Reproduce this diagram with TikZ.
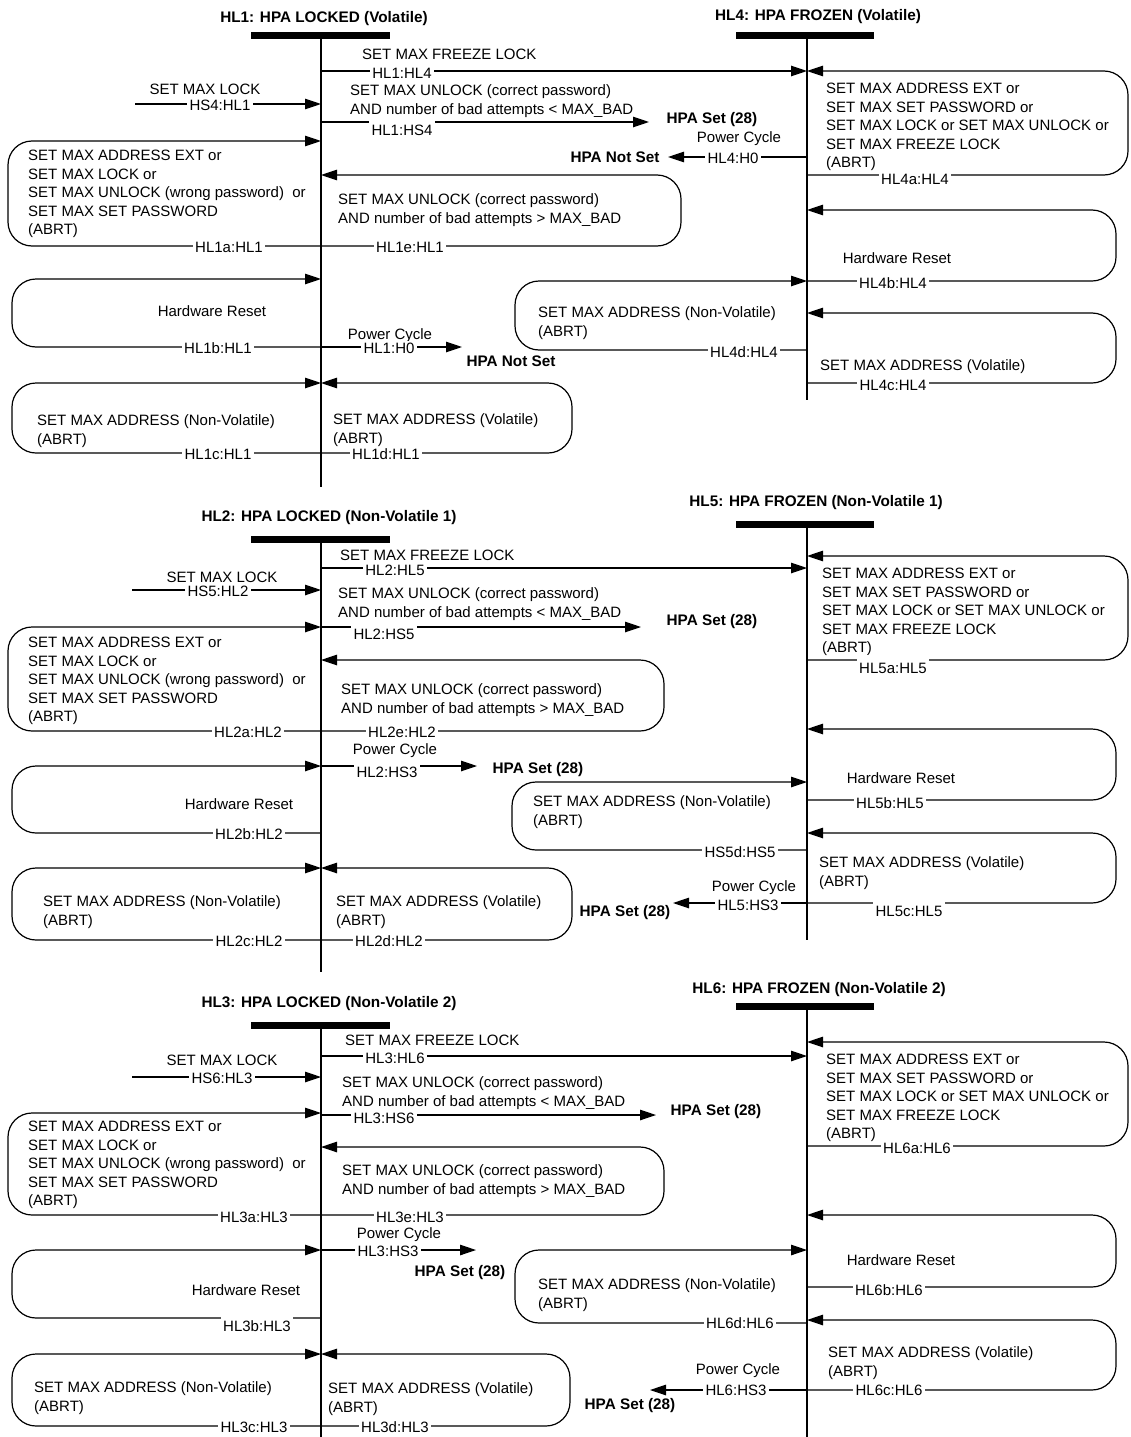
\documentclass[tikz,border=0pt]{standalone}
\usepackage{fontspec}
\setmainfont{Liberation Sans}
\usetikzlibrary{arrows.meta}
\newcommand\fnreg{\fontsize{15}{18.5}\selectfont}
\newcommand\fnbold{\fontsize{15.3}{18}\selectfont\bfseries}
\tikzset{
  conn/.style={line width=1.2pt,-{Triangle[length=16pt,width=10.5pt]}},
  life/.style={line width=2.8pt},
  hbar/.style={line width=7pt},
  lbl/.style={fill=white,inner xsep=2.5pt,inner ysep=1.5pt,text height=10.7pt,text depth=0pt,font=\fnreg},
  lblt/.style={lbl,text height=17pt,yshift=3.15pt},
  txt/.style={inner sep=0pt,text height=10.7pt,text depth=0pt,font=\fnreg},
  txw/.style={txt,anchor=west},
  bld/.style={inner sep=0pt,text height=11pt,text depth=0pt,font=\fnbold},
  blk/.style={anchor=north west,align=left,inner sep=0pt,font=\fnreg}
}
\newcommand\hloop[4]{\draw[conn,rounded corners=24pt] (#1|-0,#3) -- (#4,#3) -- (#4,#2) -- (#1|-0,#2);}
\newcommand\tblock[4]{\node[blk] (#1) at (#2,#3-7.6) {\strut #4};}
\begin{document}
\begin{tikzpicture}[x=1pt,y=-1pt]
\useasboundingbox (0,0) rectangle (1130,1437);
\fill[white] (0,0) rectangle (1130,1437);
\coordinate (L1) at (321,0);
\coordinate (L2) at (321,0);
\coordinate (L3) at (321,0);
\coordinate (L4) at (807,0);
\coordinate (L5) at (807,0);
\coordinate (L6) at (807,0);
% free ends
\coordinate (s4) at (135,104);
\coordinate (e14) at (649,122);
\coordinate (e40) at (668,157);
\coordinate (e10) at (462,347);
\coordinate (s5) at (132,590);
\coordinate (e25) at (641,627);
\coordinate (e23) at (477,766);
\coordinate (e53) at (673,903);
\coordinate (s6) at (132,1077);
\coordinate (e36) at (656,1115);
\coordinate (e33) at (476,1250);
\coordinate (e63) at (650,1390);

% ===== Section 1 connectors =====
\draw[conn] (L1|-0,71) -- (L4|-0,71);
\draw[conn] (s4) -- (L1|-0,104);
\draw[conn] (L1|-0,122) -- (e14);
\draw[conn] (L4|-0,157) -- (e40);
\draw[conn] (L1|-0,347) -- (e10);
\hloop{L1}{141}{246}{8}
\hloop{L1}{175}{246}{681}
\hloop{L1}{279}{347}{12}
\hloop{L1}{383}{453}{12}
\hloop{L1}{383}{453}{572}
\hloop{L4}{71}{175}{1128}
\hloop{L4}{210}{281}{1116}
\hloop{L4}{281}{350}{515}
\hloop{L4}{313}{383}{1116}

% ===== Section 2 connectors =====
\draw[conn] (L2|-0,568) -- (L5|-0,568);
\draw[conn] (s5) -- (L2|-0,590);
\draw[conn] (L2|-0,627) -- (e25);
\draw[conn] (L2|-0,766) -- (e23);
\draw[conn] (L5|-0,903) -- (e53);
\hloop{L2}{627}{731}{8}
\hloop{L2}{660}{731}{664}
\hloop{L2}{766}{833}{12}
\hloop{L2}{868}{940}{12}
\hloop{L2}{868}{940}{572}
\hloop{L5}{556}{660}{1128}
\hloop{L5}{729}{800}{1116}
\hloop{L5}{782}{850}{512}
\hloop{L5}{833}{903}{1116}

% ===== Section 3 connectors =====
\draw[conn] (L3|-0,1056) -- (L6|-0,1056);
\draw[conn] (s6) -- (L3|-0,1077);
\draw[conn] (L3|-0,1115) -- (e36);
\draw[conn] (L3|-0,1250) -- (e33);
\draw[conn] (L6|-0,1390) -- (e63);
\hloop{L3}{1113}{1215}{8}
\hloop{L3}{1147}{1215}{664}
\hloop{L3}{1250}{1318}{12}
\hloop{L3}{1354}{1426}{12}
\hloop{L3}{1354}{1426}{570}
\hloop{L6}{1042}{1146}{1128}
\hloop{L6}{1215}{1287}{1116}
\hloop{L6}{1250}{1323}{515}
\hloop{L6}{1320}{1390}{1116}

% ===== Section 1 texts =====
\node[bld] (T1) at (324,17) {HL1: HPA LOCKED (Volatile)};
\node[bld] (T4) at (818,15) {HL4: HPA FROZEN (Volatile)};
\node[txw] (t1a) at (362,54) {SET MAX FREEZE LOCK};
\node[lbl] (l14) at (402,73) {HL1:HL4};
\node[txt] (t1b) at (205,89) {SET MAX LOCK};
\node[lbl] (l41) at (220,105) {HS4:HL1};
\tblock{t1c}{350}{90}{SET MAX UNLOCK (correct password)\\AND number of bad attempts < MAX\_BAD}
\node[lblt] (l1s4) at (402,130) {HL1:HS4};
\node[bld] (p1) at (712,118) {HPA Set (28)};
\tblock{t1d}{28}{155}{SET MAX ADDRESS EXT or\\SET MAX LOCK or\\SET MAX UNLOCK (wrong password)\ \ or\\SET MAX SET PASSWORD\\(ABRT)}
\node[lbl] (l1a) at (229,247) {HL1a:HL1};
\tblock{t1e}{338}{199}{SET MAX UNLOCK (correct password)\\AND number of bad attempts > MAX\_BAD}
\node[lbl] (l1e) at (410,247) {HL1e:HL1};
\node[txt] (t1f) at (739,137) {Power Cycle};
\node[lbl] (l40) at (733,158) {HL4:H0};
\node[bld] (p2) at (615,157) {HPA Not Set};
\node[txt] (t1g) at (212,311) {Hardware Reset};
\node[lbl] (l1b) at (218,348) {HL1b:HL1};
\node[txt] (t1h) at (390,334) {Power Cycle};
\node[lbl] (l10) at (389,348) {HL1:H0};
\node[bld] (p3) at (511,361) {HPA Not Set};
\tblock{t1i}{37}{420}{SET MAX ADDRESS (Non-Volatile)\\(ABRT)}
\node[lbl] (l1c) at (218,454) {HL1c:HL1};
\tblock{t1j}{333}{419}{SET MAX ADDRESS (Volatile)\\(ABRT)}
\node[lbl] (l1d) at (386,454) {HL1d:HL1};
\tblock{t4a}{826}{88}{SET MAX ADDRESS EXT or\\SET MAX SET PASSWORD or\\SET MAX LOCK or SET MAX UNLOCK or\\SET MAX FREEZE LOCK\\(ABRT)}
\node[lbl] (l4a) at (915,179) {HL4a:HL4};
\node[txt] (t4b) at (897,258) {Hardware Reset};
\node[lbl] (l4b) at (893,283) {HL4b:HL4};
\tblock{t4d}{538}{312}{SET MAX ADDRESS (Non-Volatile)\\(ABRT)}
\node[lbl] (l4d) at (744,352) {HL4d:HL4};
\node[txw] (t4c) at (820,365) {SET MAX ADDRESS (Volatile)};
\node[lbl] (l4c) at (893,385) {HL4c:HL4};

% ===== Section 2 texts =====
\node[bld] (T2) at (329,516) {HL2: HPA LOCKED (Non-Volatile 1)};
\node[bld] (T5) at (816,501) {HL5: HPA FROZEN (Non-Volatile 1)};
\node[txw] (t2a) at (340,555) {SET MAX FREEZE LOCK};
\node[lbl] (l25) at (395,570) {HL2:HL5};
\node[txt] (t2b) at (222,577) {SET MAX LOCK};
\node[lbl] (l52) at (218,591) {HS5:HL2};
\tblock{t2c}{338}{593}{SET MAX UNLOCK (correct password)\\AND number of bad attempts < MAX\_BAD}
\node[lblt] (l2s5) at (384,634) {HL2:HS5};
\node[bld] (p4) at (712,620) {HPA Set (28)};
\tblock{t2d}{28}{642}{SET MAX ADDRESS EXT or\\SET MAX LOCK or\\SET MAX UNLOCK (wrong password)\ \ or\\SET MAX SET PASSWORD\\(ABRT)}
\node[lbl] (l2a) at (248,732) {HL2a:HL2};
\tblock{t2e}{341}{689}{SET MAX UNLOCK (correct password)\\AND number of bad attempts > MAX\_BAD}
\node[lbl] (l2e) at (402,732) {HL2e:HL2};
\node[txt] (t2f) at (395,749) {Power Cycle};
\node[lblt] (l2s3) at (387,772) {HL2:HS3};
\node[bld] (p5) at (538,768) {HPA Set (28)};
\node[txt] (t2g) at (239,804) {Hardware Reset};
\node[lbl] (l2b) at (249,834) {HL2b:HL2};
\tblock{t2h}{43}{901}{SET MAX ADDRESS (Non-Volatile)\\(ABRT)}
\node[lbl] (l2c) at (249,941) {HL2c:HL2};
\tblock{t2i}{336}{901}{SET MAX ADDRESS (Volatile)\\(ABRT)}
\node[lbl] (l2d) at (389,941) {HL2d:HL2};
\tblock{t5a}{822}{573}{SET MAX ADDRESS EXT or\\SET MAX SET PASSWORD or\\SET MAX LOCK or SET MAX UNLOCK or\\SET MAX FREEZE LOCK\\(ABRT)}
\node[lblt] (l5a) at (893,668) {HL5a:HL5};
\node[txt] (t5b) at (901,778) {Hardware Reset};
\node[lbl] (l5b) at (890,803) {HL5b:HL5};
\tblock{t5d}{533}{801}{SET MAX ADDRESS (Non-Volatile)\\(ABRT)}
\node[lbl] (l5d) at (740,852) {HS5d:HS5};
\tblock{t5c}{819}{862}{SET MAX ADDRESS (Volatile)\\(ABRT)}
\node[lblt] (l5c) at (909,911) {HL5c:HL5};
\node[txt] (t5e) at (754,886) {Power Cycle};
\node[lbl] (l5s3) at (748,905) {HL5:HS3};
\node[bld] (p6) at (625,911) {HPA Set (28)};

% ===== Section 3 texts =====
\node[bld] (T3) at (329,1002) {HL3: HPA LOCKED (Non-Volatile 2)};
\node[bld] (T6) at (819,988) {HL6: HPA FROZEN (Non-Volatile 2)};
\node[txw] (t3a) at (345,1040) {SET MAX FREEZE LOCK};
\node[lbl] (l36) at (395,1058) {HL3:HL6};
\node[txt] (t3b) at (222,1060) {SET MAX LOCK};
\node[lbl] (l63) at (222,1078) {HS6:HL3};
\tblock{t3c}{342}{1082}{SET MAX UNLOCK (correct password)\\AND number of bad attempts < MAX\_BAD}
\node[lbl] (l3s6) at (384,1118) {HL3:HS6};
\node[bld] (p7) at (716,1110) {HPA Set (28)};
\tblock{t3d}{28}{1126}{SET MAX ADDRESS EXT or\\SET MAX LOCK or\\SET MAX UNLOCK (wrong password)\ \ or\\SET MAX SET PASSWORD\\(ABRT)}
\node[lbl] (l3a) at (254,1217) {HL3a:HL3};
\tblock{t3e}{342}{1170}{SET MAX UNLOCK (correct password)\\AND number of bad attempts > MAX\_BAD}
\node[lbl] (l3e) at (410,1217) {HL3e:HL3};
\node[txt] (t3f) at (399,1233) {Power Cycle};
\node[lbl] (l3s3) at (388,1251) {HL3:HS3};
\node[bld] (p8) at (460,1271) {HPA Set (28)};
\node[txt] (t3g) at (246,1290) {Hardware Reset};
\node[lblt] (l3b) at (257,1326) {HL3b:HL3};
\tblock{t3h}{34}{1387}{SET MAX ADDRESS (Non-Volatile)\\(ABRT)}
\node[lbl] (l3c) at (254,1427) {HL3c:HL3};
\tblock{t3i}{328}{1388}{SET MAX ADDRESS (Volatile)\\(ABRT)}
\node[lbl] (l3d) at (395,1427) {HL3d:HL3};
\tblock{t6a}{826}{1059}{SET MAX ADDRESS EXT or\\SET MAX SET PASSWORD or\\SET MAX LOCK or SET MAX UNLOCK or\\SET MAX FREEZE LOCK\\(ABRT)}
\node[lbl] (l6a) at (917,1148) {HL6a:HL6};
\node[txt] (t6b) at (901,1260) {Hardware Reset};
\node[lbl] (l6b) at (889,1290) {HL6b:HL6};
\tblock{t6d}{538}{1284}{SET MAX ADDRESS (Non-Volatile)\\(ABRT)}
\node[lbl] (l6d) at (740,1323) {HL6d:HL6};
\tblock{t6c}{828}{1352}{SET MAX ADDRESS (Volatile)\\(ABRT)}
\node[lbl] (l6c) at (889,1390) {HL6c:HL6};
\node[txt] (t6e) at (738,1369) {Power Cycle};
\node[lbl] (l6s3) at (736,1390) {HL6:HS3};
\node[bld] (p9) at (630,1404) {HPA Set (28)};

% ===== lifelines and bars =====
\draw[life] (L1|-0,36) -- (L1|-0,487);
\draw[hbar] (251,36) -- (390,36);
\draw[life] (L4|-0,36) -- (L4|-0,400);
\draw[hbar] (736,36) -- (874,36);
\draw[life] (L2|-0,539) -- (L2|-0,972);
\draw[hbar] (251,539) -- (390,539);
\draw[life] (L5|-0,524) -- (L5|-0,940);
\draw[hbar] (736,524) -- (874,524);
\draw[life] (L3|-0,1025) -- (L3|-0,1437);
\draw[hbar] (251,1025) -- (390,1025);
\draw[life] (L6|-0,1006) -- (L6|-0,1437);
\draw[hbar] (736,1006) -- (874,1006);
\end{tikzpicture}
\end{document}
